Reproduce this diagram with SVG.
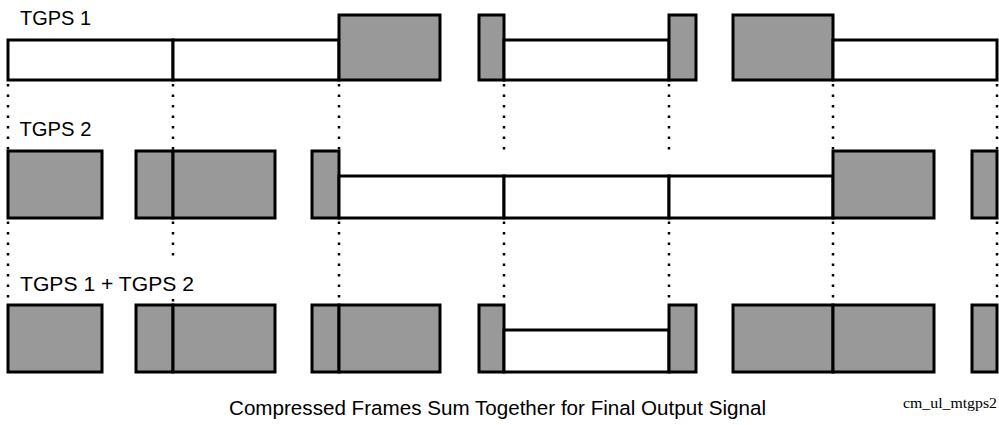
<svg xmlns="http://www.w3.org/2000/svg" width="999" height="425" viewBox="0 0 999 425">
<style>
.g{fill:#999999;stroke:#000;stroke-width:3}
.w{fill:#ffffff;stroke:#000;stroke-width:3}
.d{stroke:#000;stroke-width:2.5;stroke-dasharray:2.5 8;fill:none}
.lbl{font-family:"Liberation Sans",Arial,sans-serif;font-size:20.5px;fill:#000}
.ref{font-family:"Liberation Serif","Times New Roman",serif;font-size:15.5px;fill:#000}
</style>
<rect width="999" height="425" fill="#fff"/>
<g id="connectors">
<path class="d" d="M8 84V151M173 84V151M339 84V151M504 84V151M669 84V151M833 84V151M997 84V151"/>
<path class="d" d="M8 221.5V305M173 221.5V259M339 221.5V305M504 221.5V305M669 221.5V305M833 221.5V305M997 221.5V305"/>
<path class="d" d="M173 299V302"/>
</g>
<g id="row1">
<g id="r1a"><rect class="w" x="8" y="40" width="165" height="40"/></g>
<g id="r1b"><rect class="w" x="173" y="40" width="166" height="40"/></g>
<g id="r1c"><rect class="g" x="339" y="15" width="101" height="65"/></g>
<g id="r1d"><rect class="g" x="479" y="15" width="25" height="65"/></g>
<g id="r1e"><rect class="w" x="504" y="40" width="165" height="40"/></g>
<g id="r1f"><rect class="g" x="669" y="15" width="27" height="65"/></g>
<g id="r1g"><rect class="g" x="733" y="15" width="100" height="65"/></g>
<g id="r1h"><rect class="w" x="833" y="40" width="164" height="40"/></g>
</g>
<g id="row2">
<g id="r2a"><rect class="g" x="8" y="151" width="94" height="67"/></g>
<g id="r2b"><rect class="g" x="136" y="151" width="37" height="67"/></g>
<g id="r2c"><rect class="g" x="173" y="151" width="102" height="67"/></g>
<g id="r2d"><rect class="g" x="312" y="151" width="27" height="67"/></g>
<g id="r2e"><rect class="w" x="339" y="176" width="165" height="42"/></g>
<g id="r2f"><rect class="w" x="504" y="176" width="165" height="42"/></g>
<g id="r2g"><rect class="w" x="669" y="176" width="164" height="42"/></g>
<g id="r2h"><rect class="g" x="833" y="151" width="101" height="67"/></g>
<g id="r2i"><rect class="g" x="972" y="151" width="25" height="67"/></g>
</g>
<g id="row3">
<g id="r3a"><rect class="g" x="8" y="305" width="94" height="67"/></g>
<g id="r3b"><rect class="g" x="136" y="305" width="37" height="67"/></g>
<g id="r3c"><rect class="g" x="173" y="305" width="102" height="67"/></g>
<g id="r3d"><rect class="g" x="312" y="305" width="27" height="67"/></g>
<g id="r3e"><rect class="g" x="339" y="305" width="101" height="67"/></g>
<g id="r3f"><rect class="g" x="479" y="305" width="25" height="67"/></g>
<g id="r3g"><rect class="w" x="504" y="330" width="165" height="42"/></g>
<g id="r3h"><rect class="g" x="669" y="305" width="27" height="67"/></g>
<g id="r3i"><rect class="g" x="733" y="305" width="100" height="67"/></g>
<g id="r3j"><rect class="g" x="833" y="305" width="101" height="67"/></g>
<g id="r3k"><rect class="g" x="972" y="305" width="25" height="67"/></g>
</g>
<g id="labels">
<text class="lbl" x="20" y="25" textLength="71" lengthAdjust="spacingAndGlyphs">TGPS 1</text>
<text class="lbl" x="19.5" y="136" textLength="72" lengthAdjust="spacingAndGlyphs">TGPS 2</text>
<text class="lbl" x="20" y="291" textLength="174" lengthAdjust="spacingAndGlyphs">TGPS 1 + TGPS 2</text>
<text class="lbl" x="229" y="415" textLength="537" lengthAdjust="spacingAndGlyphs">Compressed Frames Sum Together for Final Output Signal</text>
<text class="ref" x="903" y="408" textLength="94" lengthAdjust="spacingAndGlyphs">cm_ul_mtgps2</text>
</g>
</svg>
